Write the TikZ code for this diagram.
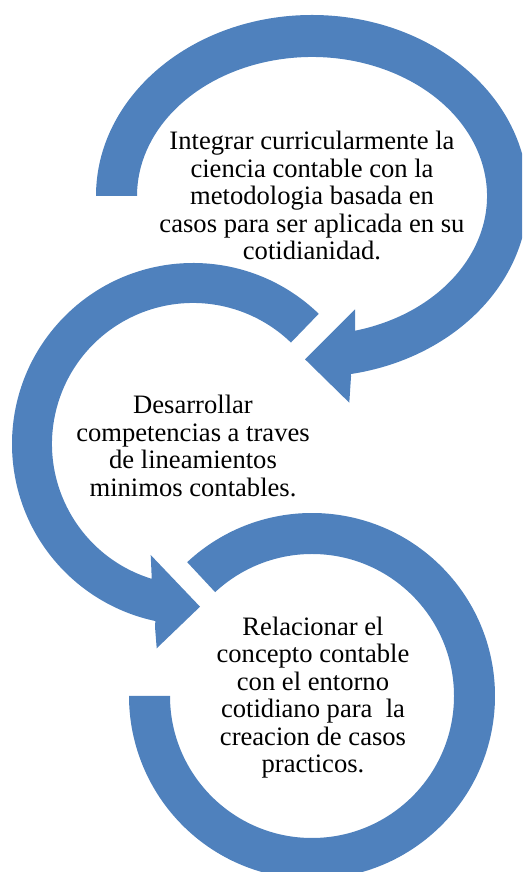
\documentclass[tikz,border=0pt]{standalone}
\usepackage{fontspec}
\setmainfont{Liberation Serif}
\usetikzlibrary{calc}
\definecolor{ringblue}{RGB}{79,129,189}
\tikzset{
  ring/.style={fill=ringblue, draw=none},
  txt/.style={align=center, inner sep=0pt, text=black,
    font=\fontsize{26.6}{27.5}\selectfont}
}
\begin{document}
\begin{tikzpicture}[x=1pt,y=1pt]
\useasboundingbox (0,0) rectangle (522,872);
\clip (0,0) rectangle (522,872);
% ring 1 (top)
\fill[ring] (96,676) arc[start angle=180, end angle=-79.6, x radius=216pt, y radius=181pt]
  -- (351,495.3) -- (349.3,469.3) -- (305,512.7) -- (355,562.7) -- (355,539.3)
  -- ($(312,676)+(-75.8:175pt and 139pt)$)
  arc[start angle=-75.8, end angle=180, x radius=175pt, y radius=139pt] -- cycle;
% ring 2 (middle)
\fill[ring] ($(193,428)+(46:181pt)$) arc[start angle=46, end angle=258, radius=181pt]
  -- (155,245.3) -- (156.7,223.7) -- (200,265.3) -- (150.7,317) -- (151.7,294.7)
  -- ($(193,428)+(253:141pt)$)
  arc[start angle=253, end angle=46, radius=141pt] -- cycle;
% ring 3 (bottom)
\fill[ring] ($(312,176)+(133:183pt)$) arc[start angle=133, end angle=-180, radius=183pt]
  -- ($(312,176)+(180:142pt)$)
  arc[start angle=-180, end angle=133, radius=142pt] -- cycle;
% texts
\node[txt] (t1) at (312,676.5) {Integrar curricularmente la\\ciencia contable con la\\metodologia basada en\\casos para ser aplicada en su\\cotidianidad.};
\node[txt] (t2) at (193,426) {Desarrollar\\competencias a traves\\de lineamientos\\minimos contables.};
\node[txt] (t3) at (313,174.4) {Relacionar el\\concepto contable\\con el entorno\\cotidiano para\ \ la\\creacion de casos\\practicos.};
\end{tikzpicture}
\end{document}
